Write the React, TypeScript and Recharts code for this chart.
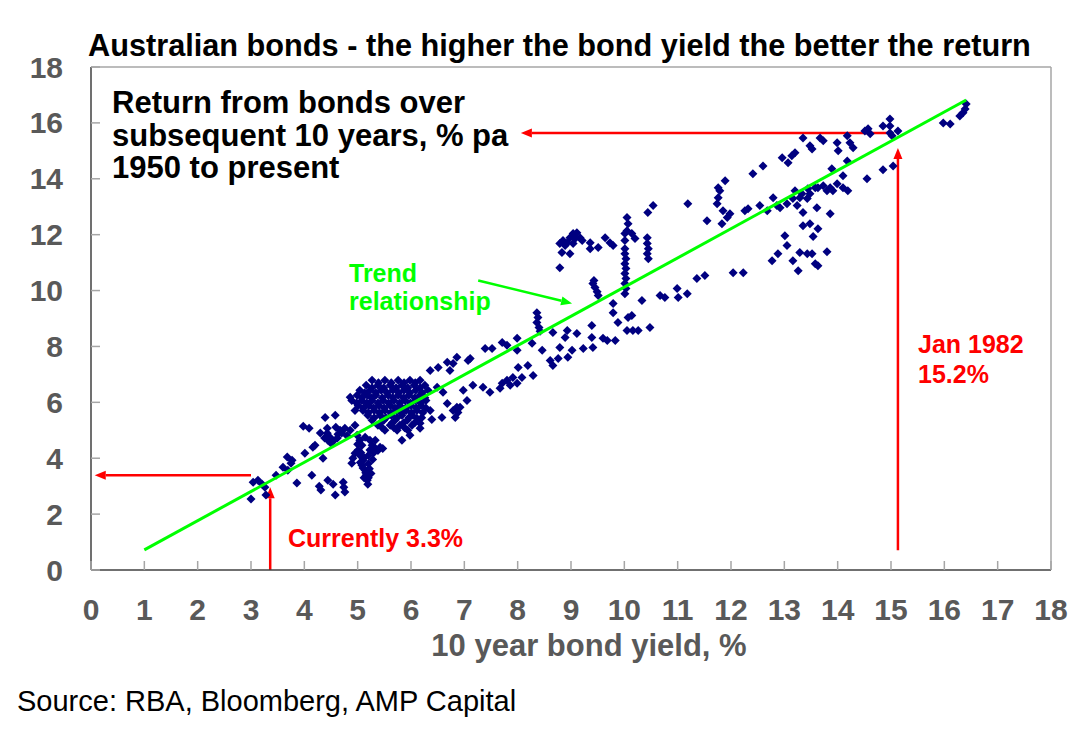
import React from 'react';
import { ScatterChart, Scatter, XAxis, YAxis, ReferenceLine } from 'recharts';

type Pt = [number, number];

const xTicks = [0, 1, 2, 3, 4, 5, 6, 7, 8, 9, 10, 11, 12, 13, 14, 15, 16, 17, 18];
const yTicks = [0, 2, 4, 6, 8, 10, 12, 14, 16, 18];

// 10 year bond yield (x) vs return over subsequent 10 years (y)
const lowYieldPoints: Pt[] = [
  [3.00, 2.54], [3.04, 3.14], [3.13, 3.21], [3.21, 3.07], [3.26, 2.96], [3.28, 2.68], [3.47, 3.39],
  [3.60, 3.68], [3.68, 4.04], [3.77, 3.93], [3.86, 3.11], [3.75, 3.82], [3.69, 3.57], [4.01, 4.18],
  [3.98, 5.14], [4.09, 5.07], [4.14, 3.39], [4.16, 4.39], [4.28, 3.00], [4.31, 2.86], [4.44, 3.21],
  [4.54, 3.07], [4.58, 2.68], [4.73, 3.14], [4.74, 2.96], [4.76, 2.79], [4.39, 5.46], [4.58, 5.54],
  [4.43, 5.07], [4.59, 5.11], [4.43, 4.89], [4.48, 4.75], [4.54, 4.61], [4.44, 4.64], [4.50, 4.54],
  [4.35, 4.00], [4.86, 6.18], [4.95, 5.71], [4.89, 3.82], [4.67, 5.00], [4.76, 5.07], [4.86, 5.00],
  [4.95, 5.18], [4.20, 4.46], [4.63, 4.86], [4.30, 4.90], [4.38, 4.72], [4.62, 4.72], [4.70, 4.90],
  [4.80, 4.80],
  [4.99, 4.82], [5.04, 4.64], [5.08, 4.46], [5.01, 4.29], [5.04, 4.11], [5.10, 3.93], [5.08, 3.75],
  [5.14, 3.57], [5.16, 3.39], [5.18, 3.21], [5.19, 3.07], [5.23, 4.29], [5.33, 4.36], [5.42, 4.39],
  [5.27, 4.46], [4.95, 4.18], [4.91, 4.00], [5.23, 4.64], [5.14, 4.75], [5.33, 4.64], [5.12, 3.30],
  [5.15, 3.48], [5.00, 4.50], [5.06, 4.20], [5.12, 4.02], [5.20, 3.80], [5.22, 3.62], [5.25, 3.45],
  [5.10, 3.65], [5.20, 4.10], [5.30, 4.20], [5.38, 4.28], [5.47, 4.35], [5.28, 3.95], [5.05, 3.85],
  [5.20, 3.30],
];

const coreClusterPoints: Pt[] = [
  [5.27, 6.79], [5.51, 6.79], [5.76, 6.79], [5.98, 6.79], [6.17, 6.79],
  [5.39, 6.70], [5.63, 6.70], [5.87, 6.70], [6.08, 6.70],
  [5.16, 6.61], [5.38, 6.61], [5.61, 6.61], [5.83, 6.61], [6.06, 6.61], [6.26, 6.61],
  [5.27, 6.52], [5.49, 6.52], [5.72, 6.52], [5.94, 6.52], [6.17, 6.52],
  [5.04, 6.43], [5.23, 6.43], [5.44, 6.43], [5.66, 6.43], [5.87, 6.43], [6.09, 6.43], [6.32, 6.43],
  [5.13, 6.34], [5.34, 6.34], [5.55, 6.34], [5.77, 6.34], [5.98, 6.34], [6.21, 6.34],
  [4.99, 6.25], [5.18, 6.25], [5.34, 6.25], [5.57, 6.25], [5.76, 6.25], [5.96, 6.25], [6.17, 6.25],
  [5.08, 6.16], [5.26, 6.16], [5.46, 6.16], [5.66, 6.16], [5.86, 6.16], [6.07, 6.16], [6.26, 6.16],
  [4.89, 6.07], [5.08, 6.07], [5.27, 6.07], [5.48, 6.07], [5.68, 6.07], [5.89, 6.07], [6.08, 6.07], [6.28, 6.07],
  [4.98, 5.98], [5.17, 5.98], [5.38, 5.98], [5.58, 5.98], [5.79, 5.98], [5.99, 5.98], [6.18, 5.98],
  [5.01, 5.89], [5.21, 5.89], [5.40, 5.89], [5.61, 5.89], [5.79, 5.89], [6.00, 5.89], [6.19, 5.89],
  [5.11, 5.80], [5.30, 5.80], [5.50, 5.80], [5.70, 5.80], [5.90, 5.80], [6.10, 5.80], [6.28, 5.80],
  [5.10, 5.71], [5.31, 5.71], [5.51, 5.71], [5.72, 5.71], [5.91, 5.71], [6.11, 5.71], [6.36, 5.71],
  [5.20, 5.63], [5.41, 5.63], [5.62, 5.63], [5.82, 5.63], [6.01, 5.63], [6.22, 5.63],
  [5.19, 5.54], [5.42, 5.54], [5.63, 5.54], [5.83, 5.54], [6.02, 5.54],
  [5.31, 5.45], [5.53, 5.45], [5.74, 5.45], [5.96, 5.45], [6.20, 5.45],
  [5.27, 5.36], [5.49, 5.36], [5.70, 5.36], [5.93, 5.36], [6.13, 5.36],
  [5.43, 5.27], [5.65, 5.27], [5.86, 5.27], [6.07, 5.27],
  [5.38, 5.18], [5.61, 5.18], [5.79, 5.18], [6.02, 5.18],
  [5.46, 5.09], [5.68, 5.09], [5.88, 5.09],
  [5.51, 5.00], [5.74, 5.00], [5.94, 5.00],
  [6.36, 7.14], [6.51, 7.25], [6.68, 7.43], [6.73, 7.14], [6.86, 7.61], [7.07, 7.50], [6.79, 7.39],
  [6.98, 6.43], [7.05, 6.07], [6.86, 5.82], [6.88, 5.64], [6.83, 5.46], [6.58, 5.46], [6.39, 5.39],
  [6.49, 6.54], [6.60, 6.36], [6.68, 5.96], [6.79, 5.71], [6.92, 5.82], [5.83, 4.64], [5.98, 4.82],
  [6.17, 5.07], [6.11, 5.43], [6.17, 5.25],
];

const midYieldPoints: Pt[] = [
  [7.16, 6.61], [7.35, 6.54], [7.48, 6.36], [7.71, 6.68], [7.86, 6.61], [7.91, 6.89], [8.01, 7.25],
  [8.19, 7.32], [8.08, 6.89], [7.99, 6.68], [8.29, 6.96], [7.67, 6.50], [7.80, 6.79], [7.39, 7.93],
  [7.52, 7.93], [7.11, 7.57], [7.71, 8.14], [7.80, 8.04], [7.99, 8.29], [7.99, 7.86], [8.27, 8.11],
  [8.46, 7.86], [8.36, 9.21], [8.38, 9.04], [8.36, 8.86], [8.40, 8.68], [8.42, 8.54], [8.66, 8.50],
  [8.79, 7.96], [8.76, 7.57], [8.93, 8.57], [8.89, 8.32], [9.02, 7.86], [9.11, 8.46], [8.94, 7.61],
  [8.61, 7.50], [8.66, 7.32], [9.39, 8.75], [9.39, 8.32], [9.23, 7.93], [9.41, 7.96], [9.41, 10.25],
  [9.45, 10.11], [9.49, 9.96], [9.51, 9.82], [9.43, 10.36], [9.60, 8.29], [9.68, 8.21], [9.83, 8.21],
  [9.79, 9.54], [9.79, 9.21], [9.88, 8.86], [10.05, 8.57], [10.16, 8.57], [10.26, 8.57], [10.07, 9.04],
  [10.14, 9.11], [10.48, 8.68], [10.33, 9.64], [10.67, 9.82], [10.76, 9.75], [10.99, 10.07], [11.01, 9.75],
  [11.18, 9.89],
  [10.01, 11.50], [10.01, 11.32], [10.03, 11.14], [10.01, 10.96], [10.03, 10.79], [10.01, 10.61],
  [10.03, 10.43], [10.01, 10.25], [10.03, 10.07], [10.01, 9.89], [10.05, 12.61], [10.07, 12.39],
  [10.05, 12.14], [10.01, 12.04], [10.14, 12.04], [10.20, 11.86], [10.01, 11.79], [10.43, 11.89],
  [10.43, 11.68], [10.45, 11.50], [10.43, 11.32], [10.45, 11.14], [10.44, 12.79], [10.54, 13.04],
  [8.79, 11.68], [8.85, 11.79], [8.93, 11.71], [8.98, 11.89], [9.04, 12.04], [9.11, 12.07], [9.17, 11.89],
  [9.21, 11.79], [9.04, 11.68], [8.83, 11.36], [8.98, 11.32], [8.79, 10.82], [9.08, 11.86], [8.89, 11.61],
  [9.36, 11.71], [9.36, 11.50], [9.51, 11.54], [9.64, 11.89], [9.73, 11.71], [9.79, 11.61],
];

const highYieldPoints: Pt[] = [
  [11.36, 10.43], [11.51, 10.54], [12.04, 10.64], [12.23, 10.64], [11.19, 13.11], [11.55, 12.50],
  [11.83, 12.39], [11.93, 12.61], [11.98, 12.75], [11.85, 12.86], [11.74, 13.11], [11.76, 13.32],
  [11.79, 13.57], [11.76, 13.68], [11.89, 13.93], [12.26, 12.86], [12.32, 12.93], [12.54, 13.04],
  [12.68, 12.86], [12.79, 13.32], [12.86, 13.04], [12.41, 14.18], [12.60, 14.46], [12.77, 11.07],
  [12.88, 11.32], [13.05, 11.61], [13.01, 11.96], [13.16, 11.07], [13.26, 10.71], [13.29, 11.36],
  [13.43, 11.32], [13.52, 11.32], [13.58, 10.96], [13.63, 10.89], [13.80, 11.39], [13.63, 12.21],
  [13.54, 11.93], [13.35, 12.32], [13.48, 12.39], [12.92, 12.96], [13.05, 13.11], [13.16, 13.29],
  [13.24, 13.04], [13.29, 13.32], [13.43, 13.29], [13.48, 13.46], [13.61, 12.96], [13.63, 13.68],
  [13.73, 13.75], [13.80, 13.57], [13.86, 13.68], [13.91, 13.57], [13.99, 13.82], [14.10, 13.68],
  [14.19, 13.57], [13.86, 12.75], [13.35, 12.79], [13.20, 13.57], [13.33, 13.46], [13.44, 13.64],
  [13.58, 13.68], [13.89, 14.36], [14.10, 14.11], [14.18, 14.64], [12.96, 14.75], [13.07, 14.57],
  [13.14, 14.82], [13.20, 14.93], [13.35, 15.46], [13.48, 15.18], [13.52, 15.07], [13.67, 15.46],
  [13.73, 15.36], [13.99, 15.29], [14.01, 15.00], [14.18, 15.54], [14.23, 15.29], [14.29, 15.11],
  [14.51, 15.71], [14.61, 15.61], [14.57, 15.79], [14.55, 14.00], [14.85, 14.32], [15.04, 14.46],
  [14.85, 15.89], [14.98, 16.14], [14.98, 15.89], [14.98, 15.64], [15.02, 15.54], [15.13, 15.71],
  [15.98, 16.00], [16.11, 15.96], [16.29, 16.25], [16.35, 16.36], [16.39, 16.50], [16.41, 16.68],
];

const trendLine: Pt[] = [[1.0, 0.72], [16.41, 16.82]];

// annotation arrows: [from, to] in data units
const currentReturnArrow: Pt[] = [[3.0, 3.39], [0.07, 3.39]];
const currentYieldArrow: Pt[] = [[3.36, 0.0], [3.36, 2.96]];
const jan1982ReturnArrow: Pt[] = [[14.93, 15.64], [8.06, 15.64]];
const jan1982YieldArrow: Pt[] = [[15.13, 0.71], [15.13, 15.1]];
const trendLabelArrow: Pt[] = [[7.26, 10.36], [9.02, 9.54]];

const FONT = '"Liberation Sans", Arial, Helvetica, sans-serif';
const AXIS_GREY = '#595959';
const NAVY = '#000080';
const GREEN = '#00ff00';
const RED = '#ff0000';

const toObj = (pts: Pt[]) => pts.map(([x, y]) => ({ x, y }));
const scatterData = toObj([...lowYieldPoints, ...coreClusterPoints, ...midYieldPoints, ...highYieldPoints]);
const trendData = toObj(trendLine);
const seg = (p: Pt[]) => [{ x: p[0][0], y: p[0][1] }, { x: p[1][0], y: p[1][1] }];

const Diamond = (props: any) => {
  const { cx, cy } = props;
  if (cx == null || cy == null) return <g />;
  const r = 4.5;
  return <polygon points={`${cx},${cy - r} ${cx + r},${cy} ${cx},${cy + r} ${cx - r},${cy}`} fill={NAVY} />;
};

const arrowShape = (color: string, width: number) => (props: any) => {
  const { x1, y1, x2, y2 } = props;
  if ([x1, y1, x2, y2].some((v) => v == null || isNaN(v))) return <g />;
  const ang = Math.atan2(y2 - y1, x2 - x1);
  const L = 11;
  const W = 4.5;
  const bx = x2 - L * Math.cos(ang);
  const by = y2 - L * Math.sin(ang);
  const p1x = bx + W * Math.sin(ang);
  const p1y = by - W * Math.cos(ang);
  const p2x = bx - W * Math.sin(ang);
  const p2y = by + W * Math.cos(ang);
  return (
    <g>
      <line x1={x1} y1={y1} x2={bx} y2={by} stroke={color} strokeWidth={width} />
      <polygon points={`${x2},${y2} ${p1x},${p1y} ${p2x},${p2y}`} fill={color} />
    </g>
  );
};

const X_TICK_SIZE = 10;
const X_TICK_MARGIN = 17;
const Y_TICK_SIZE = 10;
const Y_TICK_MARGIN = 18;

const XTick = (props: any) => {
  const { x, y, payload } = props;
  const axisY = y - X_TICK_SIZE - X_TICK_MARGIN;
  return (
    <g>
      <line x1={x} x2={x} y1={axisY} y2={axisY - 9} stroke="#a6a6a6" strokeWidth={1.5} />
      <text x={x} y={axisY + 50} textAnchor="middle" fill={AXIS_GREY} fontSize={30} fontWeight="bold" fontFamily={FONT}>
        {payload.value}
      </text>
    </g>
  );
};

const YTick = (props: any) => {
  const { x, y, payload } = props;
  const axisX = x + Y_TICK_SIZE + Y_TICK_MARGIN;
  return (
    <g>
      <line x1={axisX} x2={axisX + 9} y1={y} y2={y} stroke="#a6a6a6" strokeWidth={1.5} />
      <text x={x} y={y + 10.5} textAnchor="end" fill={AXIS_GREY} fontSize={30} fontWeight="bold" fontFamily={FONT}>
        {payload.value}
      </text>
    </g>
  );
};

export default function App() {
  return (
    <div style={{ position: 'absolute', left: 0, top: 0, width: 1092, height: 734, background: '#fff', fontFamily: FONT }}>
      <ScatterChart width={1092} height={734} margin={{ top: 67, right: 41, left: 31, bottom: 104 }}>
        <XAxis
          type="number"
          dataKey="x"
          domain={[0, 18]}
          ticks={xTicks}
          interval={0}
          allowDataOverflow
          height={60}
          tickSize={X_TICK_SIZE}
          tickMargin={X_TICK_MARGIN}
          tickLine={false}
          axisLine={{ stroke: '#404040', strokeWidth: 1.5 }}
          tick={<XTick />}
        />
        <YAxis
          type="number"
          dataKey="y"
          domain={[0, 18]}
          ticks={yTicks}
          interval={0}
          allowDataOverflow
          width={60}
          tickSize={Y_TICK_SIZE}
          tickMargin={Y_TICK_MARGIN}
          tickLine={false}
          axisLine={{ stroke: '#404040', strokeWidth: 1.5 }}
          tick={<YTick />}
        />
        <ReferenceLine y={18} stroke="#a6a6a6" strokeWidth={1.5} />
        <ReferenceLine x={18} stroke="#a6a6a6" strokeWidth={1.5} />
        <Scatter data={scatterData} shape={<Diamond />} isAnimationActive={false} />
        <Scatter
          data={trendData}
          line={{ stroke: GREEN, strokeWidth: 3 }}
          shape={() => <g />}
          isAnimationActive={false}
        />
        <ReferenceLine segment={seg(currentReturnArrow)} shape={arrowShape(RED, 2.5)} />
        <ReferenceLine segment={seg(currentYieldArrow)} shape={arrowShape(RED, 2.5)} />
        <ReferenceLine segment={seg(jan1982ReturnArrow)} shape={arrowShape(RED, 2.5)} />
        <ReferenceLine segment={seg(jan1982YieldArrow)} shape={arrowShape(RED, 2.5)} />
        <ReferenceLine segment={seg(trendLabelArrow)} shape={arrowShape(GREEN, 2.5)} />
      </ScatterChart>
      <svg
        width={1092}
        height={734}
        style={{ position: 'absolute', left: 0, top: 0, pointerEvents: 'none' }}
        fontFamily={FONT}
      >
        <text x={88} y={56} fontSize={30.7} fontWeight="bold" fill="#000">
          Australian bonds - the higher the bond yield the better the return
        </text>
        <text x={112} y={113} fontSize={31} fontWeight="bold" fill="#000">Return from bonds over</text>
        <text x={112} y={145.5} fontSize={31} fontWeight="bold" fill="#000">subsequent 10 years, % pa</text>
        <text x={112} y={178} fontSize={31} fontWeight="bold" fill="#000">1950 to present</text>
        <text x={349} y={282} fontSize={25} fontWeight="bold" fill={GREEN}>Trend</text>
        <text x={349} y={310} fontSize={25} fontWeight="bold" fill={GREEN}>relationship</text>
        <text x={918} y={353} fontSize={25} fontWeight="bold" fill={RED}>Jan 1982</text>
        <text x={918} y={383} fontSize={25} fontWeight="bold" fill={RED}>15.2%</text>
        <text x={288} y={547} fontSize={25} fontWeight="bold" fill={RED}>Currently 3.3%</text>
        <text x={589} y={656} fontSize={31} fontWeight="bold" fill={AXIS_GREY} textAnchor="middle">
          10 year bond yield, %
        </text>
        <text x={17} y={711} fontSize={29} fill="#000">Source: RBA, Bloomberg, AMP Capital</text>
      </svg>
    </div>
  );
}
